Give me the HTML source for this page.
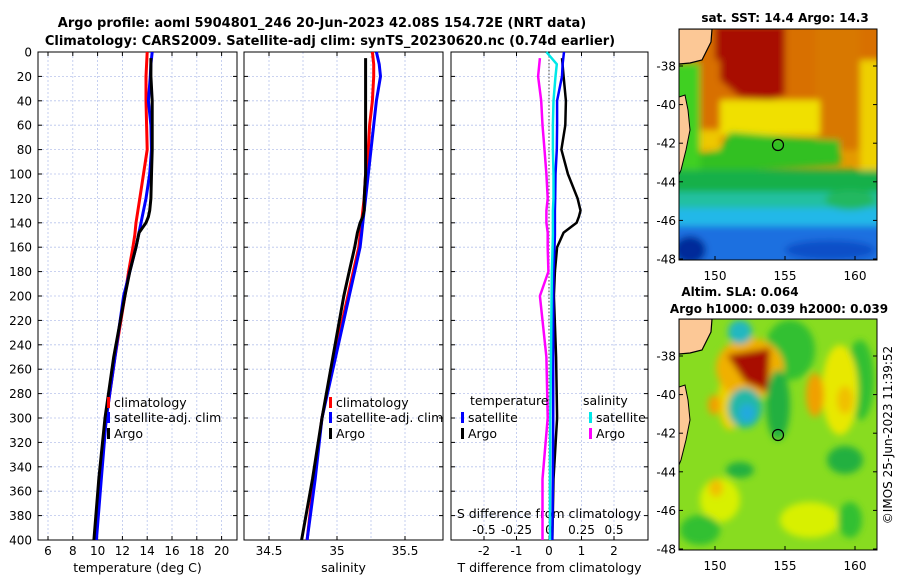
<!DOCTYPE html>
<html><head><meta charset="utf-8"><style>
html,body{margin:0;padding:0;background:#fff;}
svg{display:block;font-family:"DejaVu Sans","Liberation Sans",sans-serif;}
</style></head><body>
<svg id="fig" width="900" height="580" viewBox="0 0 900 580">
<defs>
<filter id="bl" x="-20%" y="-20%" width="140%" height="140%"><feGaussianBlur stdDeviation="3.5"/></filter>
<clipPath id="c1"><rect x="679" y="29" width="198" height="231"/></clipPath>
<clipPath id="c2"><rect x="679" y="319" width="198" height="231"/></clipPath>
</defs>
<text x="322" y="27" text-anchor="middle" font-size="13" font-weight="bold">Argo profile: aoml 5904801_246 20-Jun-2023 42.08S 154.72E (NRT data)</text>
<text x="330" y="45" text-anchor="middle" font-size="13" font-weight="bold">Climatology: CARS2009. Satellite-adj clim: synTS_20230620.nc (0.74d earlier)</text>

<!-- SST map -->
<g>
<g clip-path="url(#c1)">
<rect x="679" y="29" width="198" height="231" fill="#e39a00"/>
<g filter="url(#bl)">
<rect x="670" y="20" width="230" height="80" fill="#d87000"/>
<polygon points="715,25 785,25 785,95 770,100 740,97 720,80 715,60" fill="#a80800"/>
<rect x="815" y="25" width="45" height="125" fill="#d87800"/>
<rect x="860" y="60" width="30" height="110" fill="#eed000"/>
<polygon points="700,60 720,60 720,150 700,150" fill="#d87000"/>
<rect x="720" y="100" width="100" height="35" fill="#f0e000"/>
<rect x="670" y="130" width="50" height="20" fill="#eec800"/>
<polygon points="730,132 800,138 840,140 840,165 670,175 670,160 720,150" fill="#33c022"/>
<polygon points="670,63 700,63 700,170 670,170" fill="#40d020"/>
<rect x="670" y="170" width="220" height="25" fill="#18b048"/>
<rect x="670" y="192" width="220" height="18" fill="#20c0a0"/>
<rect x="670" y="208" width="220" height="20" fill="#22b8e8"/>
<rect x="670" y="226" width="220" height="40" fill="#1a70e0"/>
<ellipse cx="690" cy="250" rx="16" ry="14" fill="#002a9a"/>
<ellipse cx="830" cy="250" rx="45" ry="10" fill="#1050c8"/>
<ellipse cx="850" cy="200" rx="25" ry="10" fill="#20b860"/>
</g>
<polygon points="679,29 712,29 711,42 706,52 702,60 690,63 679,64" fill="#fcc896" stroke="#000" stroke-width="1.2"/>
<polygon points="679,97 685,95 688,110 690,130 686,150 681,170 679,175" fill="#fcc896" stroke="#000" stroke-width="1"/>
<circle cx="778" cy="145" r="5.5" fill="none" stroke="#000" stroke-width="1.2"/>
</g>
<rect x="679" y="29" width="198" height="231" fill="none" stroke="#000" stroke-width="1"/>
<text x="785" y="22" text-anchor="middle" font-size="12" font-weight="bold">sat. SST: 14.4 Argo: 14.3</text>
</g>

<!-- SLA map -->
<g>
<g clip-path="url(#c2)">
<rect x="679" y="319" width="198" height="231" fill="#88dc20"/>
<g filter="url(#bl)">
<ellipse cx="790" cy="350" rx="25" ry="30" fill="#30c030"/>
<ellipse cx="860" cy="380" rx="14" ry="40" fill="#30c030"/>
<ellipse cx="840" cy="390" rx="18" ry="45" fill="#e8e800"/>
<ellipse cx="815" cy="395" rx="9" ry="22" fill="#f0a000"/>
<ellipse cx="845" cy="400" rx="8" ry="14" fill="#f0c000"/>
<ellipse cx="730" cy="400" rx="12" ry="30" fill="#ecd000"/>
<ellipse cx="714" cy="405" rx="6" ry="10" fill="#f0a000"/>
<ellipse cx="750" cy="368" rx="34" ry="30" fill="#f0b000"/>
<polygon points="727,355 770,348 768,392 745,382" fill="#a80800"/>
<ellipse cx="745" cy="408" rx="17" ry="20" fill="#20b8a8"/>
<ellipse cx="747" cy="413" rx="8" ry="9" fill="#22aadd"/>
<ellipse cx="778" cy="405" rx="12" ry="35" fill="#20b040"/>
<ellipse cx="740" cy="332" rx="12" ry="12" fill="#22b8c0"/>
<ellipse cx="720" cy="500" rx="20" ry="22" fill="#d8f000"/>
<ellipse cx="716" cy="488" rx="7" ry="9" fill="#f0c000"/>
<ellipse cx="740" cy="470" rx="14" ry="8" fill="#20b040"/>
<ellipse cx="845" cy="460" rx="18" ry="14" fill="#20b040"/>
<ellipse cx="810" cy="520" rx="30" ry="18" fill="#d8f000"/>
<ellipse cx="700" cy="530" rx="20" ry="15" fill="#30c030"/>
<ellipse cx="850" cy="520" rx="12" ry="18" fill="#30c030"/>
</g>
<polygon points="679,319 712,319 711,332 706,342 702,350 690,353 679,354" fill="#fcc896" stroke="#000" stroke-width="1.2"/>
<polygon points="679,387 685,385 688,400 690,420 686,440 681,460 679,465" fill="#fcc896" stroke="#000" stroke-width="1"/>
<circle cx="778" cy="435" r="5.5" fill="none" stroke="#000" stroke-width="1.2"/>
</g>
<rect x="679" y="319" width="198" height="231" fill="none" stroke="#000" stroke-width="1"/>
<text x="740" y="296" text-anchor="middle" font-size="12" font-weight="bold">Altim. SLA: 0.064</text>
<text x="779" y="313" text-anchor="middle" font-size="12" font-weight="bold">Argo h1000: 0.039 h2000: 0.039</text>
</g>
<text transform="translate(892,435) rotate(-90)" text-anchor="middle" font-size="12">©IMOS 25-Jun-2023 11:39:52</text>

<g id="plots"></g>
</svg>
<script>
// ---- data ----
const depths = [0,10,20,40,60,80,100,120,130,140,150,160,180,200,250,300,350,400];
const argoDepths = [5,20,40,60,80,100,120,130,135,140,148,160,180,200,250,300,350,400];
const tempClim = [14.0,13.95,13.9,13.9,13.95,14.0,13.7,13.4,13.25,13.1,13.0,12.85,12.5,12.2,11.4,10.7,10.2,9.8];
const tempSat = [14.4,14.3,14.25,14.1,14.3,14.35,14.2,13.9,13.7,13.5,13.3,13.1,12.6,12.1,11.4,10.7,10.3,9.9];
const tempArgo = [14.3,14.3,14.4,14.4,14.4,14.35,14.3,14.2,14.1,13.9,13.35,13.1,12.6,12.2,11.3,10.6,10.1,9.7];
const salClim = [35.26,35.27,35.27,35.26,35.24,35.23,35.21,35.2,35.19,35.18,35.17,35.16,35.12,35.08,34.98,34.89,34.83,34.78];
const salSat = [35.29,35.31,35.32,35.29,35.27,35.25,35.23,35.21,35.2,35.19,35.18,35.17,35.13,35.09,34.99,34.89,34.84,34.78];
const salArgo = [35.21,35.21,35.21,35.21,35.21,35.21,35.2,35.2,35.19,35.17,35.15,35.13,35.09,35.05,34.97,34.89,34.82,34.74];
const tdiffSat = [0.46,0.42,0.4,0.25,0.25,0.24,0.2,0.19,0.18,0.18,0.18,0.17,0.14,0.13,0.13,0.13,0.12,0.1];
const tdiffArgo = [0.4,0.45,0.52,0.5,0.38,0.58,0.88,0.97,0.92,0.85,0.45,0.25,0.18,0.15,0.22,0.25,0.14,0.1];
const sdiffSat = [-0.02,0.06,0.05,0.035,0.03,0.03,0.035,0.035,0.03,0.03,0.03,0.028,0.022,0.02,0.015,0.01,0.008,0.008];
const sdiffArgo = [-0.07,-0.084,-0.06,-0.05,-0.035,-0.02,-0.01,-0.02,-0.02,-0.02,-0.01,-0.01,-0.005,-0.07,-0.02,-0.01,-0.05,-0.05];
const depthTicks = [0,20,40,60,80,100,120,140,160,180,200,220,240,260,280,300,320,340,360,380,400];
const tempTicks = [6,8,10,12,14,16,18,20];
const salTicks = ["34.5","35","35.5"];
const tdTicks = ["-2","-1","0","1","2"];
const sdTicks = ["-0.5","-0.25","0","0.25","0.5"];

// ---- axes ----
const Y0=52, Y1=540;
const yD = d => Y0 + d/400*(Y1-Y0);
const xT = t => 48 + (t-6)*12.4;
const xS = s => 337 + (s-35)*136;
const xTD = v => 549 + v*32.5;
const xSD = v => 549 + v*130;
const NS="http://www.w3.org/2000/svg";
const root=document.getElementById('plots');
function mk(tag,attrs,parent){const e=document.createElementNS(NS,tag);for(const k in attrs)e.setAttribute(k,attrs[k]);(parent||root).appendChild(e);return e;}
function txt(x,y,s,anchor,size,parent){const t=mk('text',{x:x,y:y,'text-anchor':anchor||'middle','font-size':size||12},parent);t.textContent=s;return t;}

const panels=[
 {name:'temperature-panel',x0:38,x1:237,gx:tempTicks.map(xT),lab:tempTicks.map(String),xl:'temperature (deg C)'},
 {name:'salinity-panel',x0:244,x1:443,gx:salTicks.map(v=>xS(+v)),lab:salTicks,xl:'salinity',extraGrid:[xS(34.75),xS(35.25)]},
 {name:'difference-panel',x0:451,x1:648,gx:tdTicks.map(v=>xTD(+v)),lab:tdTicks,xl:'T difference from climatology'}
];
panels.forEach((p,pi)=>{
 const g=mk('g',{});
 
 
 const grid=[...p.gx,...(p.extraGrid||[])];
 grid.forEach(x=>mk('line',{x1:x,x2:x,y1:Y0,y2:Y1,stroke:'#b8c4ec','stroke-width':0.8,'stroke-dasharray':'2,2'},g));
 depthTicks.forEach(d=>{
  mk('line',{x1:p.x0,x2:p.x1,y1:yD(d),y2:yD(d),stroke:'#b8c4ec','stroke-width':0.8,'stroke-dasharray':'2,2'},g);
  mk('line',{x1:p.x0,x2:p.x0+4,y1:yD(d),y2:yD(d),stroke:'#000'},g);
  mk('line',{x1:p.x1-4,x2:p.x1,y1:yD(d),y2:yD(d),stroke:'#000'},g);
 });
 p.gx.forEach((x,i)=>{
  mk('line',{x1:x,x2:x,y1:Y1,y2:Y1-4,stroke:'#000'},g);
  mk('line',{x1:x,x2:x,y1:Y0,y2:Y0+4,stroke:'#000'},g);
  const t=txt(x,555,p.lab[i],'middle',12,g);
  
  
 });
 mk('rect',{x:p.x0,y:Y0,width:p.x1-p.x0,height:Y1-Y0,fill:'none',stroke:'#000','stroke-width':1},g);
 const xl=txt((p.x0+p.x1)/2,572,p.xl,'middle',12.5,g);
 
 
 if(pi===0){
  depthTicks.forEach(d=>{
   const t=txt(32,yD(d)+4.5,String(d),'end',12,g);
   
   
  });
 }
});

// zero line in diff panel
mk('line',{x1:xTD(0),x2:xTD(0),y1:Y0+4,y2:Y1,stroke:'#666','stroke-width':1.2,'stroke-dasharray':'1.5,2'});
// S diff ticks/labels inside
sdTicks.forEach(v=>{
 const x=xSD(+v);
 mk('line',{x1:x,x2:x,y1:Y1-4,y2:Y1,stroke:'#000'});
 const t=txt(x,534,v,'middle',12);
 
 
});
const st=txt(549,518,'S difference from climatology','middle',12.5);



function line(xs,ds,fx,color,w,name){
 const pts=xs.map((v,i)=>fx(v).toFixed(1)+','+yD(ds[i]).toFixed(1)).join(' ');
 const pl=mk('polyline',{points:pts,fill:'none',stroke:color,'stroke-width':w,'stroke-linejoin':'round'});
 
 
}
line(tempClim,depths,xT,'#ff0000',3,'temp-climatology-line');
line(tempSat,depths,xT,'#0000ff',3,'temp-satellite-line');
line(tempArgo,argoDepths,xT,'#000',3,'temp-argo-line');
line(salClim,depths,xS,'#ff0000',3,'sal-climatology-line');
line(salSat,depths,xS,'#0000ff',3,'sal-satellite-line');
line(salArgo,argoDepths,xS,'#000',3,'sal-argo-line');
line(tdiffArgo,argoDepths,xTD,'#000',2.5,'tdiff-argo-line');
line(tdiffSat,depths,xTD,'#0000ff',2.5,'tdiff-satellite-line');
line(sdiffSat,depths,xSD,'#00e8e8',2.5,'sdiff-satellite-line');
line(sdiffArgo,argoDepths,xSD,'#ff00ff',2.5,'sdiff-argo-line');

function legend(x,y,color,label,name){
 const g=mk('g',{});
 
 
 mk('rect',{x:x,y:y-10,width:3,height:11,fill:color},g);
 txt(x+7,y,label,'start',12.5,g);
}
legend(107,407,'#ff0000','climatology','legend-climatology');
legend(107,422,'#0000ff','satellite-adj. clim','legend-satellite-adj');
legend(107,438,'#000','Argo','legend-argo');
legend(329,407,'#ff0000','climatology','legend-sal-climatology');
legend(329,422,'#0000ff','satellite-adj. clim','legend-sal-satellite-adj');
legend(329,438,'#000','Argo','legend-sal-argo');
const lt=txt(470,405,'temperature','start',12.5);  
const ls=txt(583,405,'salinity','start',12.5);  
legend(461,422,'#0000ff','satellite','legend-t-satellite');
legend(461,438,'#000','Argo','legend-t-argo');
legend(589,422,'#00e8e8','satellite','legend-s-satellite');
legend(589,438,'#ff00ff','Argo','legend-s-argo');

// map axes
const latTicks=[-38,-40,-42,-44,-46,-48];
const lonTicks=[150,155,160];
const yLat1 = l => 66 + (-38-l)*19.3;
const xLon = l => 715 + (l-150)*14;
[[0,'sst'],[290,'sla']].forEach(([off,nm])=>{
 latTicks.forEach(l=>{
  const y=yLat1(l)+off;
  mk('line',{x1:877,x2:873,y1:y,y2:y,stroke:'#000'});
  mk('line',{x1:679,x2:683,y1:y,y2:y,stroke:'#000'});
  const t=txt(676,y+4.5,String(l),'end',12);
  
  
 });
 lonTicks.forEach(l=>{
  const x=xLon(l);
  mk('line',{x1:x,x2:x,y1:off+260,y2:off+256,stroke:'#000'});
  const t=txt(x,off+280,String(l),'middle',12);
  
  
 });
});
</script>
</body></html>
